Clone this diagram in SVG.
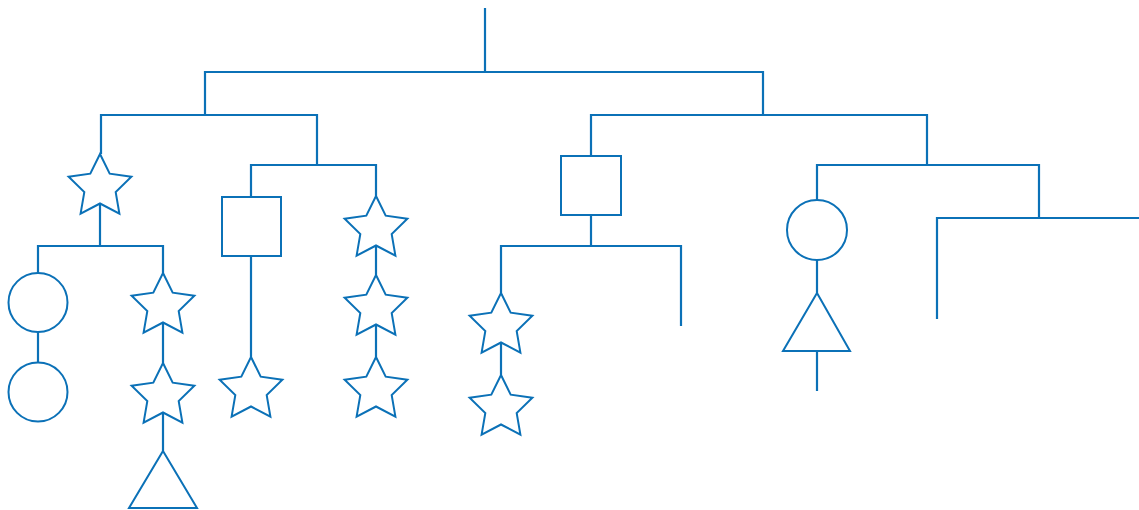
<svg xmlns="http://www.w3.org/2000/svg" xmlns:xlink="http://www.w3.org/1999/xlink" width="1139" height="510" viewBox="0 0 1139 510">
  <style>
    .s { fill: #ffffff; stroke: #0b71b7; stroke-width: 2; stroke-linejoin: miter; }
    .c { fill: none; stroke: #0b71b7; stroke-width: 2.2; }
  </style>
  <defs>
    <path id="star" d="M0,-33 L9.7,-13.35 L31.38,-10.2 L15.69,5.1 L19.4,26.7 L0,16.5 L-19.4,26.7 L-15.69,5.1 L-31.38,-10.2 L-9.7,-13.35 Z"/>
  </defs>
  <rect width="1139" height="510" fill="#ffffff"/>
  <g id="connectors" class="c">
    <path d="M485,8 V72"/>
    <path d="M205,115 V72 H763 V115"/>
    <path d="M101,154 V115 H317 V165"/>
    <path d="M251,197 V165 H376 V196"/>
    <path d="M100,203 V246"/>
    <path d="M38,273 V246 H163 V273"/>
    <path d="M38,332 V363"/>
    <path d="M163,322 V363"/>
    <path d="M163,412 V451"/>
    <path d="M251,256 V357"/>
    <path d="M376,245 V275"/>
    <path d="M376,324 V357"/>
    <path d="M591,156 V115 H927 V165"/>
    <path d="M591,215 V246"/>
    <path d="M501,293 V246 H681 V326"/>
    <path d="M501,342 V375"/>
    <path d="M817,200 V165 H1039 V218"/>
    <path d="M817,260 V293"/>
    <path d="M817,351 V391"/>
    <path d="M937,319 V218 H1139"/>
  </g>
  <g id="n1"><use xlink:href="#star" href="#star" class="s" x="100" y="187"/></g>
  <g id="n2"><circle class="s" cx="38" cy="302.5" r="29.5"/></g>
  <g id="n3"><circle class="s" cx="38" cy="392" r="29.5"/></g>
  <g id="n4"><use xlink:href="#star" href="#star" class="s" x="163" y="306"/></g>
  <g id="n5"><use xlink:href="#star" href="#star" class="s" x="163" y="396"/></g>
  <g id="n6"><polygon class="s" points="163,451 197,508 129,508"/></g>
  <g id="n7"><rect class="s" x="222" y="197" width="59" height="59"/></g>
  <g id="n8"><use xlink:href="#star" href="#star" class="s" x="251" y="390"/></g>
  <g id="n9"><use xlink:href="#star" href="#star" class="s" x="376" y="229"/></g>
  <g id="n10"><use xlink:href="#star" href="#star" class="s" x="376" y="308"/></g>
  <g id="n11"><use xlink:href="#star" href="#star" class="s" x="376" y="390"/></g>
  <g id="n12"><rect class="s" x="561" y="156" width="60" height="59"/></g>
  <g id="n13"><use xlink:href="#star" href="#star" class="s" x="501" y="326"/></g>
  <g id="n14"><use xlink:href="#star" href="#star" class="s" x="501" y="408"/></g>
  <g id="n15"><circle class="s" cx="817" cy="230" r="30"/></g>
  <g id="n16"><polygon class="s" points="817,293 850,351 783,351"/></g>
</svg>
